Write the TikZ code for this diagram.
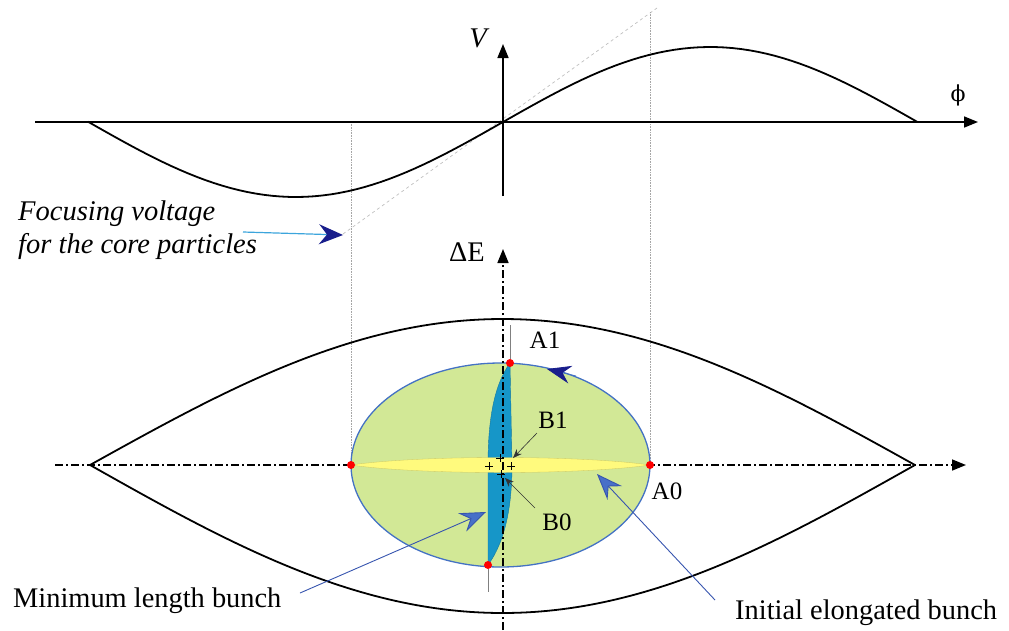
\documentclass[tikz,border=0pt]{standalone}
\usepackage{fontspec}
\setmainfont{Liberation Serif}
\newfontfamily\phifont{DejaVu Serif}
\usetikzlibrary{arrows.meta}
\definecolor{bucketfill}{RGB}{210,232,150}
\definecolor{bucketedge}{RGB}{68,114,196}
\definecolor{shortfill}{RGB}{22,150,200}
\definecolor{longfill}{RGB}{255,250,125}
\definecolor{pointerblue}{RGB}{55,85,175}
\definecolor{pointerhead}{RGB}{72,112,200}
\definecolor{navyhead}{RGB}{25,30,140}
\definecolor{focusline}{RGB}{60,165,220}
\tikzset{
    lbl/.style={inner sep=0pt, font=\fontsize{28.4}{33}\selectfont},
    itlbl/.style={inner sep=0pt, font=\fontsize{28.5}{33}\selectfont\itshape},
    ptlbl/.style={inner sep=0pt, font=\fontsize{25}{30}\selectfont},
    wave/.style={line width=1.8pt},
    axisarrow/.style={line width=1.6pt, -{Triangle[length=14pt, width=11pt]}},
    dashdot/.style={line width=1.6pt, dash pattern=on 8pt off 3pt on 2pt off 3pt},
    guide/.style={gray!70, densely dotted, line width=0.6pt},
    pointer/.style={pointerblue, line width=0.9pt, -{Stealth[length=26pt, width=20pt, inset=9pt, color=pointerblue, fill=pointerhead]}},
    focusptr/.style={focusline, line width=1.2pt, -{Stealth[length=24pt, width=20pt, inset=8pt, color=navyhead]}},
    leader/.style={gray!40!black, line width=0.6pt, -{Stealth[length=9pt, width=7pt]}},
    redpt/.style={circle, fill=red, inner sep=0pt, minimum size=8pt},
    cross/.style={line width=0.8pt}
}
\begin{document}
\begin{tikzpicture}[x=1pt, y=-1pt]
\useasboundingbox (0,0) rectangle (1009,630);

% voltage
\coordinate (phiL) at (35,122);
\coordinate (phiR) at (978,122);
\coordinate (vB) at (503,196);
\coordinate (vT) at (503,44);
\draw[gray!50, dashed, line width=0.7pt] (343,234) -- (657,8);
\draw[guide] (351,122) -- (351,465);
\draw[guide] (650,12) -- (650,465);
\draw[axisarrow] (phiL) -- (phiR);
\draw[axisarrow] (vB) -- (vT);
\draw[wave, domain=88:917, samples=100] plot (\x, {122-75*sin(0.43426*(\x-503))});
\node[itlbl] (labV) at (478,38) {V};
\node[inner sep=0pt, font=\fontsize{22}{26}\selectfont\phifont] (labPhi) at (958,95) {ϕ};

\node[itlbl, anchor=west, align=left] (labFocus) at (18,230) {Focusing voltage\\for the core particles};
\coordinate (focTail) at (243,232);
\coordinate (focTip) at (343,235);
\draw[focusptr] (focTail) -- (focTip);

% phase plane
\coordinate (eL) at (55,465);
\coordinate (eR) at (966,465);
\coordinate (dB) at (503,630);
\coordinate (dT) at (503,249);
\draw[dashdot, -{Triangle[length=14pt, width=11pt]}] (eL) -- (eR);
\draw[wave, domain=90:915, samples=120] plot (\x, {465-146*cos(0.21818*(\x-502.5))});
\draw[wave, domain=90:915, samples=120] plot (\x, {465+148*cos(0.21818*(\x-502.5))});

\draw[bucketedge, line width=1.3pt, fill=bucketfill] (500.5,465) ellipse [x radius=149.5, y radius=102];
\draw[shortfill!80!black, line width=0.4pt, fill=shortfill] (510,363) .. controls (494,385) and (488,420) .. (488,465) -- (488,565) .. controls (504,543) and (512,510) .. (512,465) -- cycle;
\draw[longfill!80!black, line width=0.3pt, fill=longfill] (351,465) .. controls (420,455) and (580,455) .. (650,465) .. controls (580,475) and (420,475) .. (351,465) -- cycle;

\draw[dashdot, -{Triangle[length=14pt, width=11pt]}] (dB) -- (dT);

\foreach \cx/\cy in {500/458, 489/466, 511/466, 501/474}
    \draw[cross] (\cx-4,\cy) -- (\cx+4,\cy) (\cx,\cy-4) -- (\cx,\cy+4);

\node[redpt] (ptA1) at (510,363) {};
\node[redpt] (ptLow) at (488,565) {};
\node[redpt] (ptLeft) at (351,465) {};
\node[redpt] (ptA0) at (650,465) {};
\coordinate (tickTop) at (510,325);
\coordinate (tickBot) at (488,592);
\draw[gray, line width=0.5pt] (tickTop) -- (ptA1);
\draw[gray, line width=0.5pt] (ptLow) -- (tickBot);

\coordinate (rotTail) at (576,376);
\coordinate (rotTip) at (547,369);
\draw[bucketedge, line width=0.8pt, -{Stealth[length=24pt, width=18pt, inset=8pt, color=navyhead]}] (rotTail) -- (rotTip);

\node[lbl] (labDE) at (467,252) {ΔE};
\node[ptlbl] (labA1) at (545,340) {A1};
\node[ptlbl] (labA0) at (667,491) {A0};
\node[ptlbl] (labB1) at (553,420) {B1};
\node[ptlbl] (labB0) at (557,522) {B0};
\coordinate (b1Tail) at (537,433);
\coordinate (b1Tip) at (513,458);
\coordinate (b0Tail) at (535,508);
\coordinate (b0Tip) at (505,478);
\draw[leader] (b1Tail) -- (b1Tip);
\draw[leader] (b0Tail) -- (b0Tip);

\node[lbl, anchor=west] (labMin) at (13,601) {Minimum length bunch};
\node[lbl, anchor=west] (labInit) at (735,613) {Initial elongated bunch};
\coordinate (minTail) at (300,593);
\coordinate (minTip) at (486,512);
\coordinate (initTail) at (715,600);
\coordinate (initTip) at (597,474);
\draw[pointer] (minTail) -- (minTip);
\draw[pointer] (initTail) -- (initTip);
\end{tikzpicture}
\end{document}
